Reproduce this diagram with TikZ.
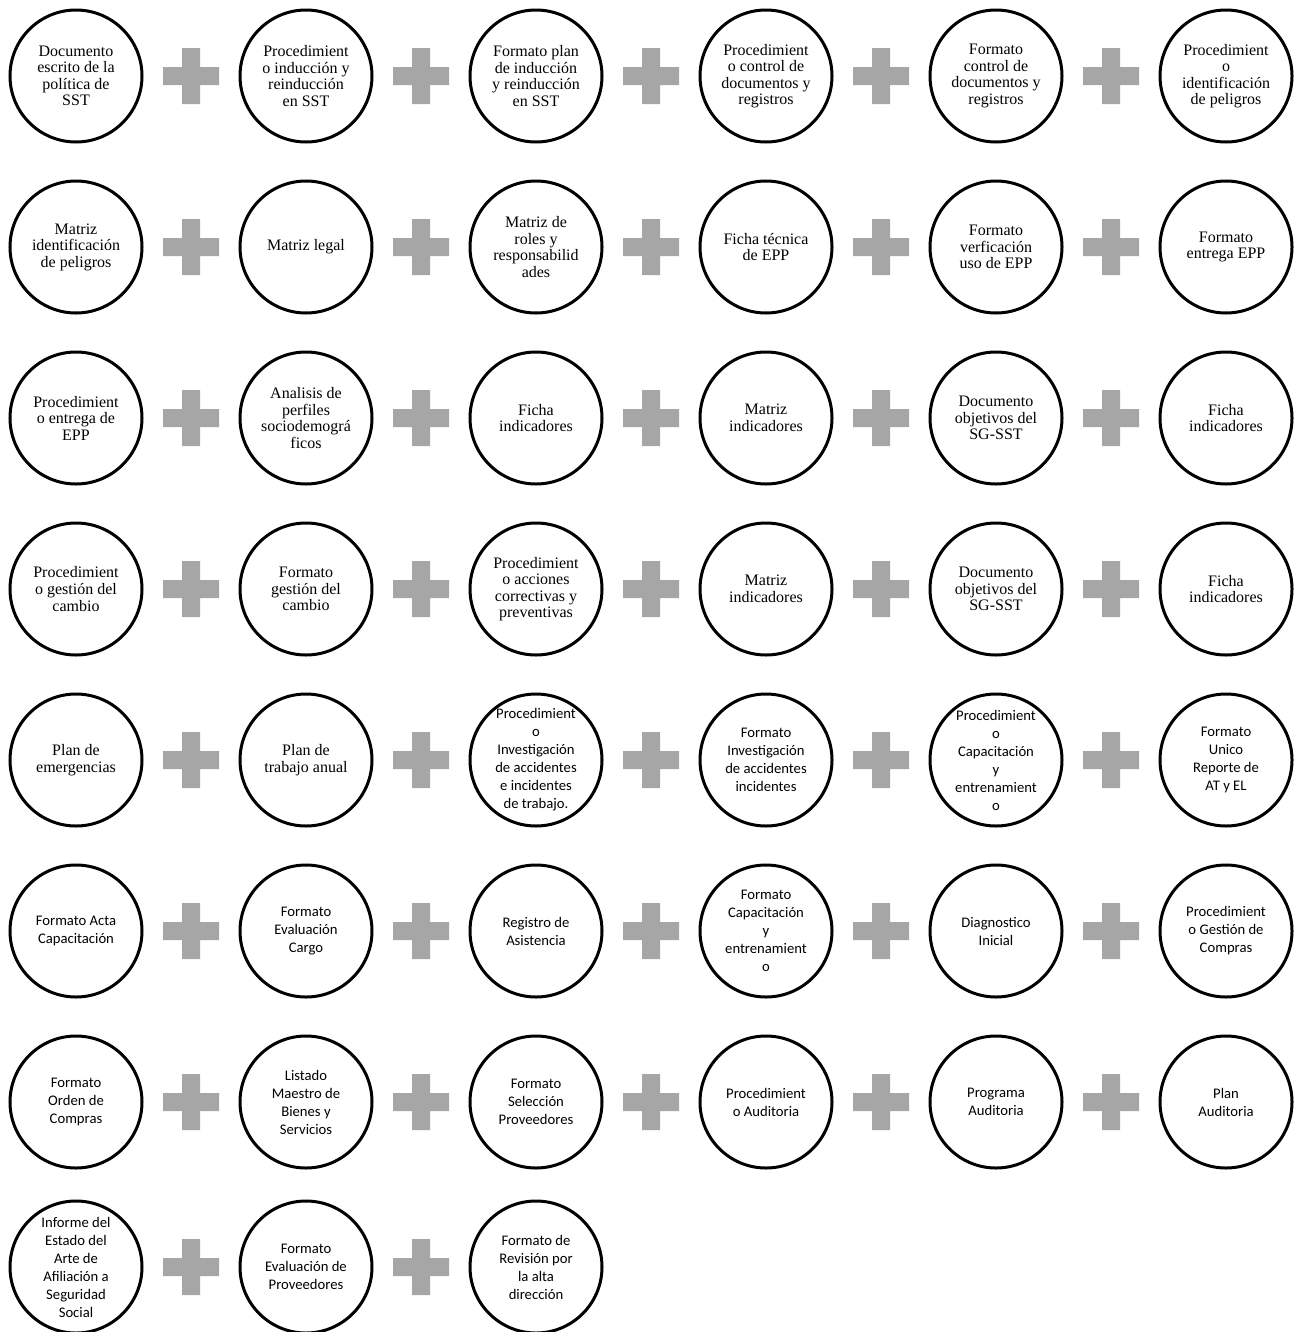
\documentclass[tikz,border=0pt]{standalone}
\usepackage{fontspec}
\setmainfont{Liberation Serif}
\newfontfamily\carlito{Carlito}
\definecolor{plusgray}{RGB}{166, 166, 166}
\usepackage{tikz}

\begin{document}
\begin{tikzpicture}[x=0.75pt, y=-0.75pt,
		doc/.style={circle, draw=black, line width=2.25pt,
			minimum size=99pt, inner sep=0pt,
			align=center, font=\fontsize{12}{12.4}\selectfont},
		docsans/.style={doc, font=\carlito\fontsize{11}{13.5}\selectfont},
		plussign/.style={rectangle, minimum size=42pt, inner sep=0pt,
			path picture={\fill[plusgray]
				([yshift=-6.75pt]path picture bounding box.west) rectangle
				([yshift=6.75pt]path picture bounding box.east)
				([xshift=-6.75pt]path picture bounding box.south) rectangle
				([xshift=6.75pt]path picture bounding box.north);}}
		]
		\useasboundingbox (0, 0) rectangle (1293, 1332);
		
		\node[doc] (d11) at (76, 76) {Documento\\escrito de la\\política de\\SST};
		\node[doc] (d12) at (306, 76) {Procedimient\\o inducción y\\reinducción\\en SST};
		\node[doc] (d13) at (536, 76) {Formato plan\\de inducción\\y reinducción\\en SST};
		\node[doc] (d14) at (766, 76) {Procedimient\\o control de\\documentos y\\registros};
		\node[doc] (d15) at (996, 76) {Formato\\control de\\documentos y\\registros};
		\node[doc] (d16) at (1226, 76) {Procedimient\\o\\identificación\\de peligros};
		
		\node[doc] (d21) at (76, 247) {Matriz\\identificación\\de peligros};
		\node[doc] (d22) at (306, 247) {Matriz legal};
		\node[doc] (d23) at (536, 247) {Matriz de\\roles y\\responsabilid\\ades};
		\node[doc] (d24) at (766, 247) {Ficha técnica\\de EPP};
		\node[doc] (d25) at (996, 247) {Formato\\verficación\\uso de EPP};
		\node[doc] (d26) at (1226, 247) {Formato\\entrega EPP};
		
		\node[doc] (d31) at (76, 418) {Procedimient\\o entrega de\\EPP};
		\node[doc] (d32) at (306, 418) {Analisis de\\perfiles\\sociodemográ\\ficos};
		\node[doc] (d33) at (536, 418) {Ficha\\indicadores};
		\node[doc] (d34) at (766, 418) {Matriz\\indicadores};
		\node[doc] (d35) at (996, 418) {Documento\\objetivos del\\SG-SST};
		\node[doc] (d36) at (1226, 418) {Ficha\\indicadores};
		
		\node[doc] (d41) at (76, 589) {Procedimient\\o gestión del\\cambio};
		\node[doc] (d42) at (306, 589) {Formato\\gestión del\\cambio};
		\node[doc] (d43) at (536, 589) {Procedimient\\o acciones\\correctivas y\\preventivas};
		\node[doc] (d44) at (766, 589) {Matriz\\indicadores};
		\node[doc] (d45) at (996, 589) {Documento\\objetivos del\\SG-SST};
		\node[doc] (d46) at (1226, 589) {Ficha\\indicadores};
		
		\node[doc] (d51) at (76, 760) {Plan de\\emergencias};
		\node[doc] (d52) at (306, 760) {Plan de\\trabajo anual};
		\node[docsans] (d53) at (536, 760) {Procedimient\\o\\Investigación\\de accidentes\\e incidentes\\de trabajo.};
		\node[docsans] (d54) at (766, 760) {Formato\\Investigación\\de accidentes\\incidentes};
		\node[docsans] (d55) at (996, 760) {Procedimient\\o\\Capacitación\\y\\entrenamient\\o};
		\node[docsans] (d56) at (1226, 760) {Formato\\Unico\\Reporte de\\AT y EL};
		
		\node[docsans] (d61) at (76, 931) {Formato Acta\\Capacitación};
		\node[docsans] (d62) at (306, 931) {Formato\\Evaluación\\Cargo};
		\node[docsans] (d63) at (536, 931) {Registro de\\Asistencia};
		\node[docsans] (d64) at (766, 931) {Formato\\Capacitación\\y\\entrenamient\\o};
		\node[docsans] (d65) at (996, 931) {Diagnostico\\Inicial};
		\node[docsans] (d66) at (1226, 931) {Procedimient\\o Gestión de\\Compras};
		
		\node[docsans] (d71) at (76, 1102) {Formato\\Orden de\\Compras};
		\node[docsans] (d72) at (306, 1102) {Listado\\Maestro de\\Bienes y\\Servicios};
		\node[docsans] (d73) at (536, 1102) {Formato\\Selección\\Proveedores};
		\node[docsans] (d74) at (766, 1102) {Procedimient\\o Auditoria};
		\node[docsans] (d75) at (996, 1102) {Programa\\Auditoria};
		\node[docsans] (d76) at (1226, 1102) {Plan\\Auditoria};
		
		\node[docsans] (d81) at (76, 1267) {Informe del\\Estado del\\Arte de\\Afiliación a\\Seguridad\\Social};
		\node[docsans] (d82) at (306, 1267) {Formato\\Evaluación de\\Proveedores};
		\node[docsans] (d83) at (536, 1267) {Formato de\\Revisión por\\la alta\\dirección};
		
		\foreach \r/\y in {1/76, 2/247, 3/418, 4/589, 5/760, 6/931, 7/1102}
		\foreach \c/\x in {1/191, 2/421, 3/651, 4/881, 5/1111}
		\node[plussign] (p\r\c) at (\x, \y) {};
		\node[plussign] (p81) at (191, 1267) {};
		\node[plussign] (p82) at (421, 1267) {};
	\end{tikzpicture}
\end{document}
